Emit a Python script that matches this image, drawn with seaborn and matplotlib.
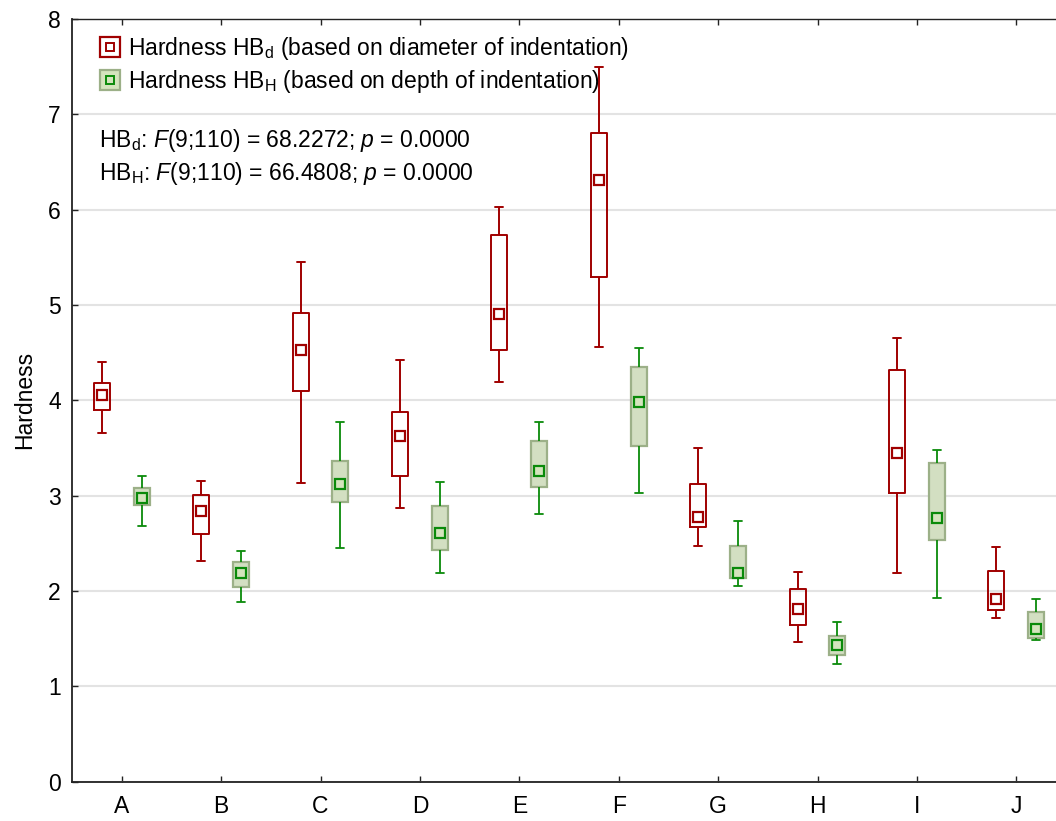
import numpy as np
import pandas as pd
import seaborn as sns
import matplotlib.pyplot as plt
from matplotlib.lines import Line2D
from matplotlib.legend_handler import HandlerTuple

groups = ['A', 'B', 'C', 'D', 'E', 'F', 'G', 'H', 'I', 'J']

# whisker low, box low, centre marker, box high, whisker high
hbd_low = [3.66, 2.31, 3.13, 2.87, 4.19, 4.56, 2.47, 1.46, 2.19, 1.72]
hbd_q1 = [3.90, 2.60, 4.10, 3.21, 4.53, 5.29, 2.67, 1.64, 3.03, 1.80]
hbd_mid = [4.05, 2.84, 4.53, 3.62, 4.90, 6.31, 2.77, 1.81, 3.45, 1.92]
hbd_q3 = [4.18, 3.01, 4.92, 3.88, 5.73, 6.80, 3.12, 2.02, 4.32, 2.21]
hbd_high = [4.40, 3.15, 5.45, 4.42, 6.03, 7.50, 3.50, 2.20, 4.65, 2.46]

hbh_low = [2.68, 1.88, 2.45, 2.19, 2.81, 3.03, 2.05, 1.23, 1.93, 1.48]
hbh_q1 = [2.90, 2.04, 2.93, 2.43, 3.09, 3.52, 2.14, 1.33, 2.53, 1.51]
hbh_mid = [2.97, 2.19, 3.12, 2.61, 3.26, 3.98, 2.19, 1.43, 2.76, 1.60]
hbh_q3 = [3.08, 2.30, 3.36, 2.89, 3.57, 4.35, 2.47, 1.53, 3.34, 1.78]
hbh_high = [3.21, 2.42, 3.77, 3.14, 3.77, 4.55, 2.73, 1.67, 3.48, 1.92]

series = ['HBd', 'HBH']

RED = '#a00000'
GREEN = '#0a8a0a'
GREEN_FILL = '#d4e4bd'
GREEN_EDGE = '#9cb088'

rows = []
for s, cols in [('HBd', [hbd_low, hbd_q1, hbd_mid, hbd_q3, hbd_high]),
                ('HBH', [hbh_low, hbh_q1, hbh_mid, hbh_q3, hbh_high])]:
    for i, g in enumerate(groups):
        for c in cols:
            rows.append({'group': g, 'series': s, 'value': c[i]})
df = pd.DataFrame(rows)

sns.set_style('white')
plt.rcParams['font.family'] = ['Liberation Sans', 'DejaVu Sans']
plt.rcParams['text.color'] = 'black'
plt.rcParams['mathtext.fontset'] = 'custom'
plt.rcParams['mathtext.rm'] = 'Liberation Sans'
plt.rcParams['mathtext.it'] = 'Liberation Sans:italic'
plt.rcParams['mathtext.default'] = 'regular'

fig = plt.figure(figsize=(10.56, 8.21), dpi=100)
ax = fig.add_axes([72 / 1056, 39.5 / 821, 994 / 1056, 762.5 / 821])

# red series, open boxes
sns.boxplot(data=df[df['series'] == 'HBd'], x='group', y='value', hue='series',
            hue_order=series, order=groups, palette={'HBd': RED, 'HBH': GREEN},
            dodge=True, fill=False, width=0.8, gap=0.6, whis=(0, 100), showfliers=False,
            linewidth=1.4, medianprops=dict(visible=False), legend=False, ax=ax)

# green series, filled boxes
sns.boxplot(data=df[df['series'] == 'HBH'], x='group', y='value', hue='series',
            hue_order=series, order=groups, palette={'HBd': RED, 'HBH': GREEN_FILL},
            dodge=True, fill=True, width=0.8, gap=0.6, whis=(0, 100), showfliers=False,
            linewidth=1.3, linecolor=GREEN,
            boxprops=dict(edgecolor=GREEN_EDGE, linewidth=1.6),
            whiskerprops=dict(color=GREEN), capprops=dict(color=GREEN),
            medianprops=dict(visible=False), legend=False, ax=ax)

# square centre markers
face = {'HBd': 'white', 'HBH': GREEN_FILL}
edge = {'HBd': RED, 'HBH': GREEN}
for s in series:
    n0 = len(ax.lines)
    sns.pointplot(data=df[df['series'] == s], x='group', y='value', hue='series',
                  hue_order=series, order=groups, estimator='median', errorbar=None,
                  dodge=0.4, markers='s', linestyles='none', palette=edge,
                  legend=False, ax=ax)
    for ln in ax.lines[n0:]:
        ln.set_markerfacecolor(face[s])
        ln.set_markeredgecolor(edge[s])
        ln.set_markersize(7)
        ln.set_markeredgewidth(1.6)
        ln.set_zorder(5)

ax.set_xlim(-0.5, 9.5)
ax.set_ylim(0, 8)
ax.set_yticks(range(0, 9))
ax.yaxis.grid(True, color='#e3e3e3', linewidth=1.5)
ax.xaxis.grid(False)
ax.set_axisbelow(True)

for sp in ['left', 'bottom', 'top']:
    ax.spines[sp].set_color('#222222')
    ax.spines[sp].set_linewidth(1.3)
ax.spines['top'].set_linewidth(1.0)
ax.spines['right'].set_visible(False)

ax.tick_params(axis='both', direction='in', length=4, width=1, colors='#222222',
               labelsize=16.5, labelcolor='black')
ax.tick_params(axis='x', top=True, bottom=True, pad=10)
ax.tick_params(axis='y', left=True, pad=8)

ax.set_xlabel('')
ax.set_ylabel('Hardness', fontsize=16.5, labelpad=9, color='black')

h1 = (Line2D([], [], ls='none', marker='s', markersize=14, markerfacecolor='white',
             markeredgecolor=RED, markeredgewidth=1.6),
      Line2D([], [], ls='none', marker='s', markersize=6, markerfacecolor='white',
             markeredgecolor=RED, markeredgewidth=1.4))
h2 = (Line2D([], [], ls='none', marker='s', markersize=14, markerfacecolor=GREEN_FILL,
             markeredgecolor=GREEN_EDGE, markeredgewidth=1.6),
      Line2D([], [], ls='none', marker='s', markersize=6, markerfacecolor=GREEN_FILL,
             markeredgecolor=GREEN, markeredgewidth=1.4))
ax.legend([h1, h2],
          ['Hardness HB$_d$ (based on diameter of indentation)',
           'Hardness HB$_H$ (based on depth of indentation)'],
          handler_map={tuple: HandlerTuple(ndivide=1)},
          loc='upper left', bbox_to_anchor=(0.006, 1.006), frameon=False,
          fontsize=16.5, handlelength=1.0, handletextpad=0.3, labelspacing=0.28)

ax.text(0.027, 0.841, 'HB$_d$: $\\it{F}$(9;110) = 68.2272; $\\it{p}$ = 0.0000',
        transform=ax.transAxes, fontsize=16.5, va='center', ha='left')
ax.text(0.027, 0.798, 'HB$_H$: $\\it{F}$(9;110) = 66.4808; $\\it{p}$ = 0.0000',
        transform=ax.transAxes, fontsize=16.5, va='center', ha='left')

fig.savefig('out.png', dpi=100)
